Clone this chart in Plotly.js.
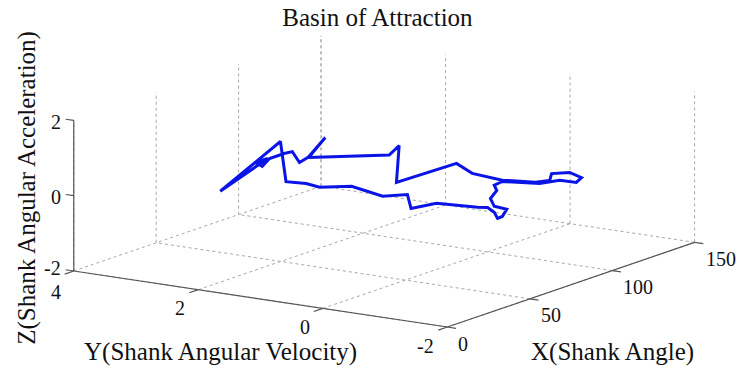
<!DOCTYPE html>
<html>
<head>
<meta charset="utf-8">
<script src="https://cdn.plot.ly/plotly-3.0.1.min.js"></script>
<style>html,body{margin:0;padding:0;background:#fff;}#chart{width:746px;height:376px;}</style>
</head>
<body>
<div id="chart"></div>
<script>
// ---- data ----
// Shank angle (X)
var shankAngle = [71.0, 67.7, 83.3, 85.2, 84.7, 96.2, 99.3, 105.1, 107.0, 111.5, 114.2, 114.6, 118.0, 120.3, 119.4, 116.1, 112.2, 108.4, 105.1, 103.6, 104.0, 102.8, 103.6, 105.9, 105.1, 104.1, 103.6, 102.2, 100.3, 92.4, 87.5, 86.8, 82.0, 76.0, 71.7, 69.8, 67.3, 63.4, 62.3, 50.7, 59.8, 57.5, 58.8, 60.2, 63.0, 64.6, 65.9, 67.9, 71.0];
// Shank angular velocity (Y)
var shankVelocity = [1.84, 2.03, 1.14, 1.03, 1.06, 0.40, 0.23, -0.10, -0.21, -0.46, -0.62, -0.64, -0.84, -0.97, -0.91, -0.73, -0.51, -0.29, -0.10, -0.01, -0.04, 0.03, -0.01, -0.15, -0.10, -0.05, -0.01, 0.06, 0.17, 0.62, 0.90, 0.94, 1.21, 1.55, 1.80, 1.90, 2.05, 2.27, 2.33, 2.99, 2.47, 2.61, 2.53, 2.45, 2.29, 2.20, 2.12, 2.01, 1.84];
// Shank angular acceleration (Z)
var shankAccel = [1.02, 0.49, 0.54, 0.79, -0.19, 0.31, 0.04, -0.15, -0.16, -0.21, -0.16, 0.02, 0.05, -0.09, -0.22, -0.16, -0.24, -0.21, -0.18, -0.28, -0.42, -0.63, -0.84, -0.92, -1.11, -1.16, -1.00, -0.87, -0.86, -0.75, -0.88, -0.51, -0.55, -0.28, -0.31, -0.30, -0.20, -0.15, 0.92, -0.39, 0.47, 0.37, 0.26, 0.47, 0.60, 0.65, 0.36, 0.52, 1.02];

var xTicks = [0, 50, 100, 150];
var yTicks = [-2, 0, 2, 4];
var zTicks = [-2, 0, 2];
var xRange = [0, 150], yRange = [-2, 4], zRange = [-2, 2];

// ---- 3D view (orthographic, like MATLAB view) ----
var viewAz = 213.5 * Math.PI / 180;
var viewEl = 13.1 * Math.PI / 180;
var boxAspect = {x: 1, y: 1, z: 0.345};
var sa = Math.sin(viewAz), ca = Math.cos(viewAz), se = Math.sin(viewEl), ce = Math.cos(viewEl);

function proj(x, y, z) {
  var X = ((x - xRange[0]) / (xRange[1] - xRange[0]) - 0.5) * boxAspect.x;
  var Y = ((y - yRange[0]) / (yRange[1] - yRange[0]) - 0.5) * boxAspect.y;
  var Z = ((z - zRange[0]) / (zRange[1] - zRange[0]) - 0.5) * boxAspect.z;
  return [-sa * X + ca * Y, -se * ca * X - se * sa * Y + ce * Z];
}
function segTrace(segs, style) {
  var xs = [], ys = [];
  segs.forEach(function (s) {
    var a = proj(s[0][0], s[0][1], s[0][2]), b = proj(s[1][0], s[1][1], s[1][2]);
    xs.push(a[0], b[0], null); ys.push(a[1], b[1], null);
  });
  return {type: 'scatter', mode: 'lines', x: xs, y: ys, line: style, hoverinfo: 'skip', connectgaps: false};
}

// grid (dotted) on floor and the two back walls
var gridSegs = [];
xTicks.forEach(function (t) {
  gridSegs.push([[t, yRange[0], zRange[0]], [t, yRange[1], zRange[0]]]);
  gridSegs.push([[t, yRange[1], zRange[0]], [t, yRange[1], zRange[1]]]);
});
yTicks.forEach(function (t) {
  gridSegs.push([[xRange[0], t, zRange[0]], [xRange[1], t, zRange[0]]]);
  gridSegs.push([[xRange[1], t, zRange[0]], [xRange[1], t, zRange[1]]]);
});

// axis lines + tick marks
var axisSegs = [
  [[xRange[0], yRange[1], zRange[0]], [xRange[0], yRange[1], zRange[1]]],
  [[xRange[0], yRange[1], zRange[0]], [xRange[0], yRange[0], zRange[0]]],
  [[xRange[0], yRange[0], zRange[0]], [xRange[1], yRange[0], zRange[0]]]
];
xTicks.forEach(function (t) { axisSegs.push([[t, yRange[0], zRange[0]], [t, yRange[0] - 0.14, zRange[0]]]); });
yTicks.forEach(function (t) { axisSegs.push([[xRange[0], t, zRange[0]], [xRange[0] - 5.5, t, zRange[0]]]); });
zTicks.forEach(function (t) { axisSegs.push([[xRange[0], yRange[1], t], [xRange[0], yRange[1] + 0.13, t]]); });

// projected curve
var cx = [], cy = [];
for (var i = 0; i < shankAngle.length; i++) {
  var p = proj(shankAngle[i], shankVelocity[i], shankAccel[i]);
  cx.push(p[0]); cy.push(p[1]);
}

var traces = [
  segTrace(gridSegs, {color: '#a8a8a8', width: 1, dash: 'dot'}),
  segTrace(axisSegs, {color: '#555555', width: 1.2}),
  {type: 'scatter', mode: 'lines', x: cx, y: cy, line: {color: '#0a14e6', width: 3}, hoverinfo: 'skip'}
];

var serif = "'Liberation Serif', 'Times New Roman', Times, serif";
var tickFont = {family: serif, size: 20, color: '#111'};
var titleFont = {family: serif, size: 25, color: '#111'};

var ann = [];
zTicks.forEach(function (t, k) {
  var p = proj(xRange[0], yRange[1], t);
  ann.push({x: p[0], y: p[1], xref: 'x', yref: 'y', text: String(t), showarrow: false, xanchor: 'right', yanchor: 'middle', xshift: -12, yshift: (k === 0 ? 3 : -1.5), borderpad: 0, font: tickFont});
});
yTicks.forEach(function (t, k) {
  var p = proj(xRange[0], t, zRange[0]);
  ann.push({x: p[0], y: p[1], xref: 'x', yref: 'y', text: String(t), showarrow: false, xanchor: 'right', yanchor: 'middle', xshift: -12, yshift: (k === yTicks.length - 1 ? -21 : -18.5), borderpad: 0, font: tickFont});
});
xTicks.forEach(function (t) {
  var p = proj(t, yRange[0], zRange[0]);
  ann.push({x: p[0], y: p[1], xref: 'x', yref: 'y', text: String(t), showarrow: false, xanchor: 'left', yanchor: 'middle', xshift: 10, yshift: -16.5, borderpad: 0, font: tickFont});
});
ann.push({xref: 'paper', yref: 'paper', x: 0.036, y: 0.50, text: 'Z(Shank Angular Acceleration)', showarrow: false, textangle: -90, xanchor: 'center', yanchor: 'middle', font: titleFont});
ann.push({xref: 'paper', yref: 'paper', x: 0.296, y: 0.064, text: 'Y(Shank Angular Velocity)', showarrow: false, xanchor: 'center', yanchor: 'middle', font: titleFont});
ann.push({xref: 'paper', yref: 'paper', x: 0.821, y: 0.064, text: 'X(Shank Angle)', showarrow: false, xanchor: 'center', yanchor: 'middle', font: titleFont});

var pxScale = 448, cenX = 384.2, cenY = 181.4, W = 746, H = 376;
var hidden = {visible: false, showgrid: false, zeroline: false, fixedrange: true, autorange: false};

var layout = {
  width: W, height: H,
  margin: {l: 0, r: 0, t: 0, b: 0, pad: 0},
  paper_bgcolor: '#fff', plot_bgcolor: '#fff',
  showlegend: false, hovermode: false,
  title: {text: 'Basin of Attraction', font: titleFont, x: 0.506, xanchor: 'center', y: 0.955, yanchor: 'middle', xref: 'container', yref: 'container'},
  xaxis: Object.assign({range: [-cenX / pxScale, (W - cenX) / pxScale]}, hidden),
  yaxis: Object.assign({range: [-(H - cenY) / pxScale, cenY / pxScale]}, hidden),
  annotations: ann
};

Plotly.newPlot('chart', traces, layout, {displayModeBar: false, staticPlot: true});
</script>
</body>
</html>
